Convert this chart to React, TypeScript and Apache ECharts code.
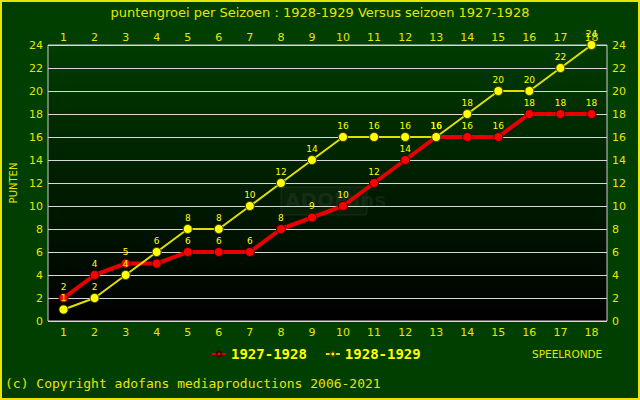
import React, { useEffect, useRef } from "react";
import * as echarts from "echarts";

const rounds = ["1","2","3","4","5","6","7","8","9","10","11","12","13","14","15","16","17","18"];
const season2728 = [2,4,5,5,6,6,6,8,9,10,12,14,16,16,16,18,18,18];
const season2829 = [1,2,4,6,8,8,10,12,14,16,16,16,16,18,20,20,22,24];
const titleText = "puntengroei per Seizoen : 1928-1929 Versus seizoen 1927-1928";
const copyright = "(c) Copyright adofans mediaproductions 2006-2021";

export default function App() {
  const ref = useRef<HTMLDivElement>(null);
  useEffect(() => {
    document.body.style.margin = "0";
    const chart = echarts.init(ref.current!, null, { renderer: "svg" });
    const yellow = "#e6e600";
    const axisLabel = { color: yellow, fontSize: 11, fontFamily: "DejaVu Sans" };
    chart.setOption({
      animation: false,
      backgroundColor: "#003f00",
      title: {
        text: titleText,
        left: "center",
        top: 1,
        textStyle: { color: yellow, fontSize: 13, fontWeight: "normal", fontFamily: "DejaVu Sans" },
      },
      legend: {
        left: 206,
        top: 342,
        itemWidth: 14,
        itemHeight: 6,
        itemGap: 18,
        textStyle: { color: "#ffff00", fontSize: 14, fontWeight: "bold", fontFamily: "DejaVu Sans Mono" },
        data: ["1927-1928", "1928-1929"],
      },
      grid: {
        left: 45,
        right: 33,
        top: 45,
        bottom: 79,
        show: true,
        borderColor: "#cfcfcf",
        borderWidth: 1,
        backgroundColor: new echarts.graphic.LinearGradient(0, 0, 0, 1, [
          { offset: 0, color: "#003c00" },
          { offset: 1, color: "#000000" },
        ]),
      },
      xAxis: [
        {
          type: "category",
          data: rounds,
          position: "bottom",
          axisLine: { show: false },
          axisTick: { show: false },
          axisLabel: { ...axisLabel, margin: 6 },
        },
        {
          type: "category",
          data: rounds,
          position: "top",
          axisLine: { show: false },
          axisTick: { show: false },
          axisLabel: { ...axisLabel, margin: 2 },
        },
      ],
      yAxis: [
        {
          type: "value",
          min: 0,
          max: 24,
          interval: 2,
          position: "left",
          name: "PUNTEN",
          nameLocation: "middle",
          nameGap: 30,
          nameRotate: 90,
          nameTextStyle: { color: yellow, fontSize: 10, fontFamily: "DejaVu Sans" },
          axisLine: { show: false },
          axisTick: { show: false },
          splitLine: { lineStyle: { color: "#d8d8d8", width: 1 } },
          axisLabel: { ...axisLabel, margin: 5 },
        },
        {
          type: "value",
          min: 0,
          max: 24,
          interval: 2,
          position: "right",
          axisLine: { show: false },
          axisTick: { show: false },
          splitLine: { show: false },
          axisLabel: { ...axisLabel, margin: 5 },
        },
      ],
      series: [
        {
          name: "1927-1928",
          type: "line",
          data: season2728,
          color: "#ff0000",
          lineStyle: { color: "#e80000", width: 4 },
          symbol: "circle",
          symbolSize: 9,
          itemStyle: { color: "#ff0000", borderColor: "#400000", borderWidth: 1 },
          label: { show: true, position: "top", distance: 2, color: "#ffff00", fontSize: 9, fontFamily: "DejaVu Sans" },
          z: 3,
        },
        {
          name: "1928-1929",
          type: "line",
          data: season2829,
          color: "#ffff00",
          lineStyle: { color: "#e0e000", width: 2 },
          symbol: "circle",
          symbolSize: 9,
          itemStyle: { color: "#ffff00", borderColor: "#404000", borderWidth: 1 },
          label: { show: true, position: "top", distance: 2, color: "#ffff00", fontSize: 9, fontFamily: "DejaVu Sans" },
          z: 4,
        },
      ],
      graphic: [
        {
          type: "rect",
          shape: { x: 1, y: 1, width: 638, height: 398 },
          style: { fill: "none", stroke: "#e6e600", lineWidth: 2 },
          z: 100,
        },
        {
          type: "rect",
          shape: { x: 281, y: 187, width: 86, height: 28, r: 3 },
          style: { fill: "rgba(80,100,80,0.10)", stroke: "rgba(100,120,100,0.2)", lineWidth: 1 },
          z: 0,
        },
        {
          type: "text",
          left: 285,
          top: 190,
          style: { text: "ADOFans", fill: "rgba(90,110,90,0.18)", font: "bold 20px DejaVu Sans" },
          z: 0,
        },
        {
          type: "text",
          left: 532,
          top: 348,
          style: { text: "SPEELRONDE", fill: yellow, font: "10.5px DejaVu Sans" },
        },
        {
          type: "text",
          left: 5,
          top: 377,
          style: { text: copyright, fill: yellow, font: "13px DejaVu Sans Mono" },
        },
      ],
    });
    return () => chart.dispose();
  }, []);
  return <div ref={ref} style={{ width: 640, height: 400 }} />;
}
